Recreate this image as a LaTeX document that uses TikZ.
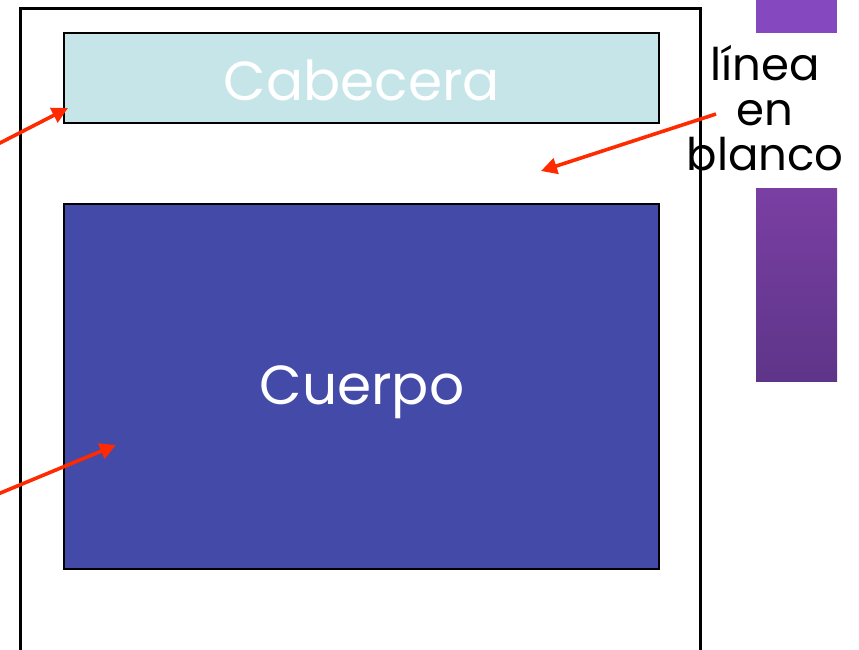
\documentclass[tikz,border=0pt]{standalone}
\usepackage{fontspec}
\setmainfont{Poppins}
\usetikzlibrary{arrows.meta}
\definecolor{headfill}{HTML}{C5E5E8}
\definecolor{bodyfill}{HTML}{434AA8}
\definecolor{arrowred}{HTML}{FF2A00}
\definecolor{purpA}{HTML}{8648BE}
\definecolor{purpB}{HTML}{7A3FA3}
\definecolor{purpC}{HTML}{5E3589}
\tikzset{
  box/.style={draw=black, line width=2.2pt, inner sep=0pt, anchor=north west},
  ptr/.style={draw=arrowred, line width=3.6pt, -{Triangle[length=16pt,width=16pt]}},
  bigtext/.style={font=\fontsize{55}{58}\selectfont, text=white},
  sidetext/.style={font=\fontsize{45}{45}\selectfont, align=center, text=black}
}
\begin{document}
\begin{tikzpicture}[x=1pt,y=-1pt]
\useasboundingbox (0,0) rectangle (859,649);
% outer page
\draw[line width=3pt] (20,660) -- (20,8) -- (700,8) -- (700,660);
% purple bars
\fill[purpA] (756,0) rectangle (837,33);
\shade[top color=purpB, bottom color=purpC] (756,188) rectangle (837,381);
% boxes
\node[box, fill=headfill, minimum width=595pt, minimum height=90pt] (head) at (63,32) {};
\node[bigtext] (headtxt) at (362,80) {Cabecera};
\node[box, fill=bodyfill, minimum width=595pt, minimum height=365pt] (body) at (63,203) {};
\node[bigtext] (bodytxt) at (362,392) {Cuerpo};
% side label
\node[sidetext] (lab) at (765,108) {línea\\en\\blanco};
% arrows
\coordinate (s1) at (-2,144);
\coordinate (t1) at (68,108);
\coordinate (s2) at (-2,494);
\coordinate (t2) at (116,445);
\coordinate (s3) at (716,114);
\coordinate (t3) at (541,171);
\draw[ptr] (s1) -- (t1);
\draw[ptr] (s2) -- (t2);
\draw[ptr] (s3) -- (t3);
\end{tikzpicture}
\end{document}
